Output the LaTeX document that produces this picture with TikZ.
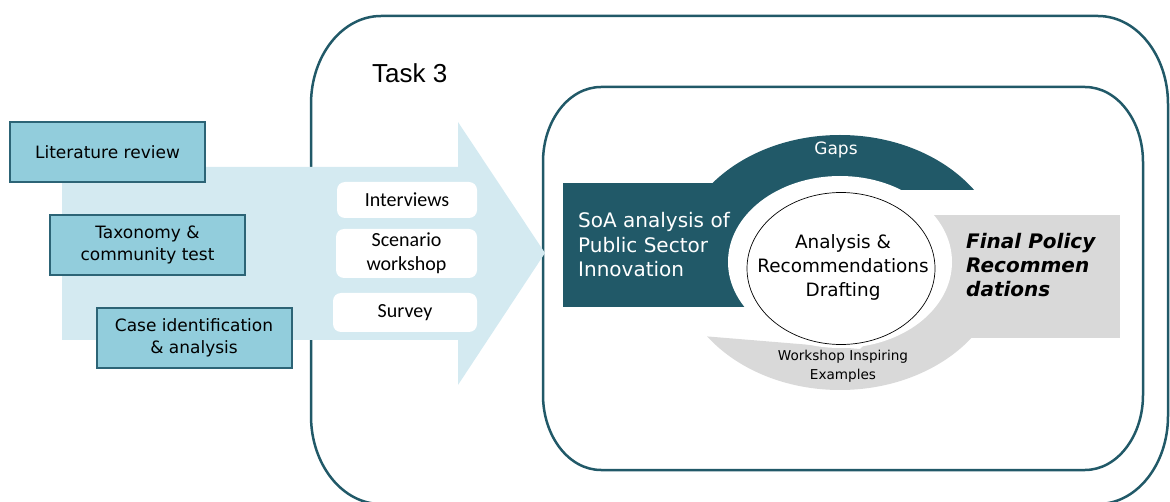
\documentclass[tikz,border=0pt]{standalone}
\usepackage{fontspec}
\setmainfont{DejaVu Sans}
\newfontfamily\carlito{Carlito}
\newfontfamily\liberation{Liberation Sans}

\definecolor{arrowblue}{RGB}{212,234,241}
\definecolor{boxblue}{RGB}{146,205,220}
\definecolor{boxedge}{RGB}{44,100,118}
\definecolor{darkteal}{RGB}{33,89,104}
\definecolor{panelgrey}{RGB}{217,217,217}

% oval frame: x1,y1,x2,y2,rx,ry
\newcommand{\ovalframe}[6]{%
  \draw[frameline] ({#1+#5},#2) -- ({#3-#5},#2)
    arc[start angle=-90,end angle=0,x radius=#5,y radius=#6]
    -- (#3,{#4-#6})
    arc[start angle=0,end angle=90,x radius=#5,y radius=#6]
    -- ({#1+#5},#4)
    arc[start angle=90,end angle=180,x radius=#5,y radius=#6]
    -- (#1,{#2+#6})
    arc[start angle=180,end angle=270,x radius=#5,y radius=#6]
    -- cycle;}

\tikzset{
  frameline/.style={draw=darkteal, line width=2.5pt},
  inputbox/.style={draw=boxedge, line width=2pt, fill=boxblue,
    minimum width=195pt, minimum height=60pt, align=center,
    font=\fontsize{17}{21.5}\selectfont},
  methodbox/.style={fill=white, rounded corners=8pt, align=center,
    font=\carlito\fontsize{20}{24}\selectfont},
}

\begin{document}
\begin{tikzpicture}[x=1pt,y=-1pt]
\useasboundingbox (0,0) rectangle (1170,502);

%Frames
\ovalframe{311}{16}{1168}{504}{70}{88}
\ovalframe{543}{87}{1143}{470}{58}{75}

%Arrow
\fill[arrowblue] (62,167) -- (458,167) -- (458,122) -- (545,253)
  -- (458,385) -- (458,340) -- (62,340) -- cycle;

%Inputs
\node[inputbox] (lit) at (107.5,152) {Literature review};
\node[inputbox] (tax) at (147.5,245) {Taxonomy \&\\community test};
\node[inputbox] (case) at (194,338) {Case identification\\\& analysis};

%Methods
\node[methodbox, minimum width=140pt, minimum height=36pt] (intv) at (407,200) {Interviews};
\node[methodbox, minimum width=141pt, minimum height=49pt] (scen) at (406.5,253.5) {Scenario\\workshop};
\node[methodbox, minimum width=144pt, minimum height=39pt] (surv) at (405,312.5) {Survey};

\node[anchor=west, inner sep=0, font=\liberation\fontsize{26}{30}\selectfont] (task) at (372,73) {Task 3};

%Cycle
\begin{scope}
  \clip (600,100) rectangle (1010,190);
  \fill[darkteal] (840,262.5) ellipse [x radius=163, y radius=127.5];
\end{scope}
\fill[darkteal] (563,183) rectangle (790,307);
\begin{scope}
  \clip (690,335) -- (860,349) -- (1010,200) -- (1010,400) -- (690,400) -- cycle;
  \fill[panelgrey] (840,262.5) ellipse [x radius=163, y radius=127.5];
\end{scope}
\fill[panelgrey] (890,215) rectangle (1120,338);
\fill[white] (840,262) ellipse [x radius=112, y radius=86];
\draw[line width=0.7pt] (841,268.5) ellipse [x radius=94, y radius=76];

%Labels
\node[align=center, inner sep=0, font=\fontsize{18.4}{24}\selectfont] (draft) at (843,267)
  {Analysis \&\\Recommendations\\Drafting};
\node[anchor=west, inner sep=0, align=left, text=white,
  font=\fontsize{20}{24.5}\selectfont] (soa) at (578,245)
  {SoA analysis of\\Public Sector\\Innovation};
\node[anchor=west, inner sep=0, align=left,
  font=\bfseries\itshape\fontsize{20}{24}\selectfont] (final) at (966,265.5)
  {Final Policy\\Recommen\\dations};
\node[text=white, font=\fontsize{17}{20}\selectfont] (gaps) at (836,150) {Gaps};
\node[align=center, font=\fontsize{13.6}{19}\selectfont] (wie) at (843,366)
  {Workshop Inspiring\\Examples};
\end{tikzpicture}
\end{document}
